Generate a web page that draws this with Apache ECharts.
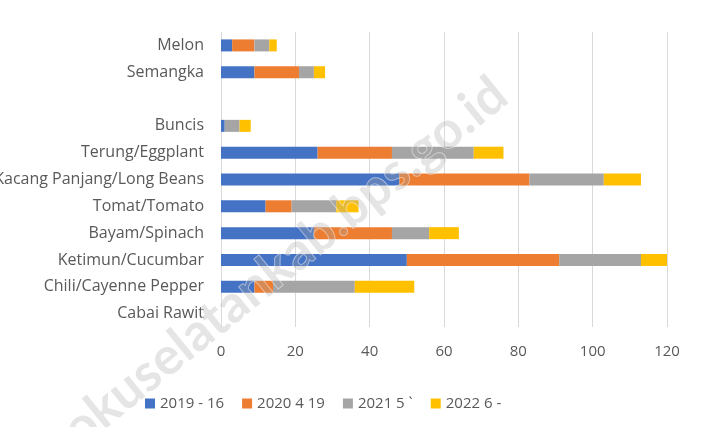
<!DOCTYPE html>
<html>
<head>
<meta charset="utf-8">
<script src="https://cdn.jsdelivr.net/npm/echarts@6/dist/echarts.min.js"></script>
<style>
  html, body { margin: 0; padding: 0; background: #fff; }
  #chart { width: 715px; height: 427px; }
</style>
</head>
<body>
<div id="chart"></div>
<script>
// categories bottom -> top (empty row between Buncis and Semangka)
var categories = ['Cabai Rawit', 'Chili/Cayenne Pepper', 'Ketimun/Cucumbar', 'Bayam/Spinach',
  'Tomat/Tomato', 'Kacang Panjang/Long Beans', 'Terung/Eggplant', 'Buncis', '', 'Semangka', 'Melon'];
var seriesNames = ['2019 - 16', '2020 4 19', '2021 5 `', '2022 6 -'];
var v2019 = [0, 9, 50, 25, 12, 48, 26, 1, 0, 9, 3];
var v2020 = [0, 5, 41, 21, 7, 35, 20, 0, 0, 12, 6];
var v2021 = [0, 22, 22, 10, 12, 20, 22, 4, 0, 4, 4];
var v2022 = [0, 16, 7, 8, 6, 10, 8, 3, 0, 3, 2];
var xTicks = [0, 20, 40, 60, 80, 100, 120];

var colors = ['#4472C4', '#ED7D31', '#A5A5A5', '#FFC000'];
var font = 'Open Sans';

var chart = echarts.init(document.getElementById('chart'));

function bar(name, data) {
    return {
        name: name,
        type: 'bar',
        stack: 'total',
        barWidth: 12,
        data: data
    };
}

chart.setOption({
    animation: false,
    color: colors,
    textStyle: { fontFamily: font },
    grid: {
        left: 221, right: 48, top: 32, bottom: 100,
        containLabel: false,
        outerBoundsMode: 'none'
    },
    legend: {
        data: seriesNames,
        left: 140,
        top: 391,
        icon: 'rect',
        itemWidth: 10,
        itemHeight: 10,
        itemGap: 18,
        textStyle: { color: '#595959', fontSize: 15, fontFamily: font }
    },
    xAxis: {
        type: 'value',
        min: xTicks[0],
        max: xTicks[xTicks.length - 1],
        interval: 20,
        axisLine: { show: false },
        axisTick: { show: false },
        splitLine: { lineStyle: { color: '#d9d9d9' } },
        axisLabel: { color: '#595959', fontSize: 15, margin: 17, fontFamily: font }
    },
    yAxis: {
        type: 'category',
        data: categories,
        axisLine: { show: false },
        axisTick: { show: false },
        axisLabel: { color: '#595959', fontSize: 16, margin: 17, fontFamily: font }
    },
    graphic: [{
        type: 'text',
        x: 285,
        y: 262,
        rotation: 0.68,
        z: 100,
        silent: true,
        style: {
            text: 'okuselatankab.bps.go.id',
            align: 'center',
            verticalAlign: 'middle',
            font: 'bold 52px Lato',
            fill: 'rgba(170,170,170,0.3)',
            stroke: 'rgba(255,255,255,0.5)',
            lineWidth: 1
        }
    }],
    series: [
        bar(seriesNames[0], v2019),
        bar(seriesNames[1], v2020),
        bar(seriesNames[2], v2021),
        bar(seriesNames[3], v2022)
    ]
});
</script>
</body>
</html>
